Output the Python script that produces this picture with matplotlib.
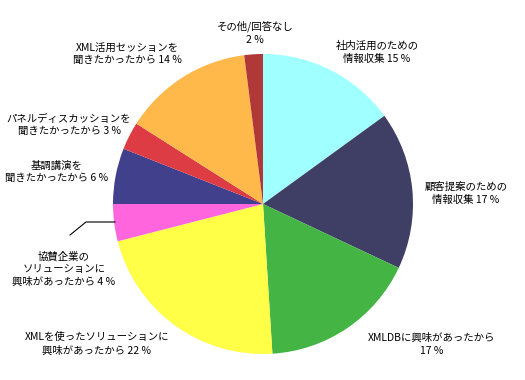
import matplotlib
matplotlib.use("Agg")
import matplotlib.pyplot as plt

plt.rcParams['font.family'] = ['Noto Sans CJK JP', 'DejaVu Sans']

# data (clockwise from 12 o'clock)
labels = ['社内活用のための\n情報収集', '顧客提案のための\n情報収集', 'XMLDBに興味があったから\n',
          'XMLを使ったソリューションに\n興味があったから', '協賛企業の\nソリューションに\n興味があったから',
          '基調講演を\n聞きたかったから', 'パネルディスカッションを\n聞きたかったから',
          'XML活用セッションを\n聞きたかったから', 'その他/回答なし\n']
values = [15, 17, 17, 22, 4, 6, 3, 14, 2]
colors = ['#A0FFFF', '#3F3F66', '#44B444', '#FFFF48', '#FF66DD',
          '#40408C', '#DD3C44', '#FFB84A', '#B03838']

# label positions in pixels (x, y from top)
label_pos = [(377, 52), (466, 193), (432, 344), (97, 344), (64, 269),
             (57, 172), (69, 125), (127, 54), (255, 33)]

W, H = 525, 380
fig = plt.figure(figsize=(5.25, 3.8), dpi=100)
ax = fig.add_axes([0, 0, 1, 1])

ax.pie(values, colors=colors, startangle=90, counterclock=False,
       center=(263, H - 204), radius=150, wedgeprops=dict(linewidth=0),
       frame=True)
ax.set_xlim(0, W)
ax.set_ylim(0, H)
ax.set_aspect('equal')
ax.axis('off')

for lab, v, (px, py) in zip(labels, values, label_pos):
    if lab.endswith('\n'):
        txt = lab + f'{v} %'
    else:
        txt = lab + f' {v} %'
    ax.text(px, H - py, txt, ha='center', va='center', fontsize=7.5,
            linespacing=1.35, color='black')

# leader line for the small pink slice
ax.plot([115, 86, 70], [H - 222, H - 222, H - 235], color='black', lw=0.8)

fig.savefig('out.png', dpi=100)
